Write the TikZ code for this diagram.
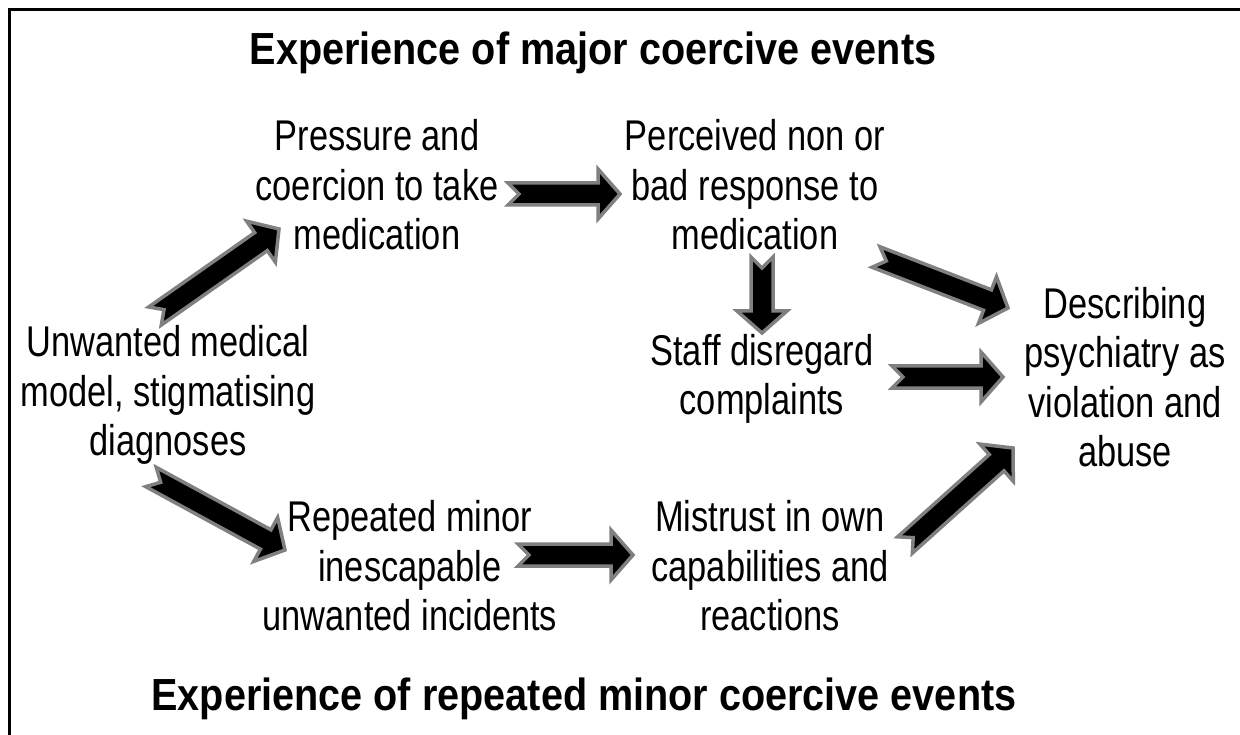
\documentclass[tikz,border=0pt]{standalone}
\usepackage{fontspec}
\setmainfont{Liberation Sans}[FakeStretch=0.8]
\newfontfamily\headfont{Liberation Sans}[FakeStretch=0.88]
\usetikzlibrary{calc}

\tikzset{
  txt/.style={align=center, inner sep=0pt, font=\fontsize{43}{49.5}\selectfont},
  head/.style={anchor=base, inner sep=0pt, font=\headfont\bfseries\fontsize{45}{50}\selectfont},
  fat/.style={draw=black!50, fill=black, line width=3.5pt, line join=miter,
    to path={let \p1=(\tikztostart), \p2=(\tikztotarget),
      \n1={atan2(\y2-\y1,\x2-\x1)}, \n2={veclen(\x2-\x1,\y2-\y1)} in
      {[shift={(\p1)}, rotate=\n1]
        (0pt,11pt) -- (\n2-22pt,11pt) -- (\n2-22pt,25pt) -- (\n2,0pt)
        -- (\n2-22pt,-25pt) -- (\n2-22pt,-11pt) -- (0pt,-11pt) -- (11pt,0pt) -- cycle}}}
}

\begin{document}
\begin{tikzpicture}[x=1pt, y=-1pt]
  \useasboundingbox (0,0) rectangle (1240,735);

  % 1. 枠 (左と上のみ)
  \draw[line width=3.5pt] (9.5,735) -- (9.5,9.5) -- (1240,9.5);

  % 2. 見出し
  \node[head] (major) at (593,65) {Experience of major coercive events};
  \node[head] (minor) at (584,710) {Experience of repeated minor coercive events};

  % 3. 各ボックス
  \node[txt] (unw)   at (168,395) {Unwanted medical\\model, stigmatising\\diagnoses};
  \node[txt] (press) at (377,185) {Pressure and\\coercion to take\\medication};
  \node[txt] (perc)  at (755,185) {Perceived non or\\bad response to\\medication};
  \node[txt] (staff) at (762,379) {Staff disregard\\complaints};
  \node[txt] (rep)   at (410,566) {Repeated minor\\inescapable\\unwanted incidents};
  \node[txt] (mist)  at (770,566) {Mistrust in own\\capabilities and\\reactions};
  \node[txt] (desc)  at (1125,377) {Describing\\psychiatry as\\violation and\\abuse};

  % 4. 矢印の端点
  \coordinate (U1) at (155,316);  \coordinate (P1) at (279,229);
  \coordinate (P2) at (508,194);  \coordinate (Q1) at (620,194);
  \coordinate (Q2) at (762,257);  \coordinate (S1) at (762,333);
  \coordinate (Q3) at (876,257);  \coordinate (D1) at (1008,308);
  \coordinate (S2) at (892,377);  \coordinate (D2) at (1003,377);
  \coordinate (U2) at (151,477);  \coordinate (R1) at (285,550);
  \coordinate (R2) at (518,555);  \coordinate (M1) at (633,555);
  \coordinate (M2) at (905,545);  \coordinate (D3) at (1013,448);

  % 5. 太い矢印
  \draw[fat] (U1) to (P1);
  \draw[fat] (P2) to (Q1);
  \draw[fat] (Q2) to (S1);
  \draw[fat] (Q3) to (D1);
  \draw[fat] (S2) to (D2);
  \draw[fat] (U2) to (R1);
  \draw[fat] (R2) to (M1);
  \draw[fat] (M2) to (D3);

\end{tikzpicture}
\end{document}
